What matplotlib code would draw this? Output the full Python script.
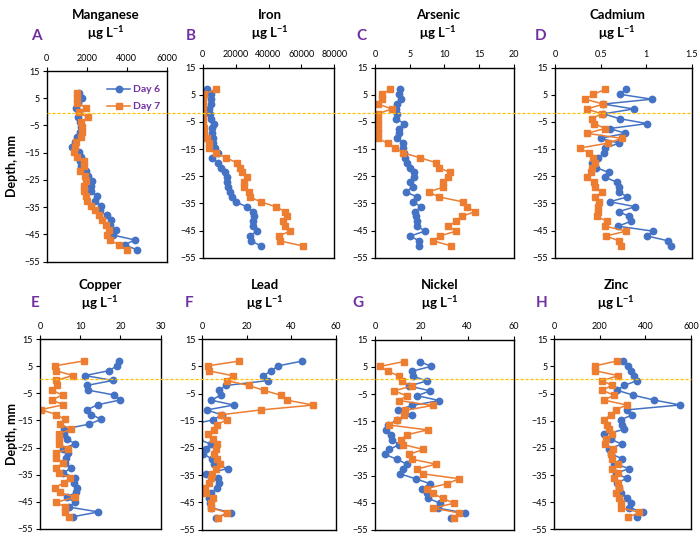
import matplotlib
matplotlib.use("Agg")
import matplotlib.pyplot as plt
from matplotlib.lines import Line2D

plt.rcParams['font.family'] = ['Lato', 'DejaVu Sans']
plt.rcParams['mathtext.fontset'] = 'custom'
plt.rcParams['mathtext.rm'] = 'Lato'
plt.rcParams['mathtext.bf'] = 'Lato:bold'
plt.rcParams['mathtext.it'] = 'Lato:italic'

# depth of each DGT slice, mm
depth = [7, 5.2, 3.4, 1.6, -0.2, -2, -3.8, -5.6, -7.4, -9.2, -11, -12.8, -14.6,
         -16.4, -18.2, -20, -21.8, -23.6, -25.4, -27.2, -29, -30.8, -32.6,
         -34.4, -36.2, -38, -39.8, -41.6, -43.4, -45.2, -47, -48.8, -50.6]

mn_day6 = [1600, 1750, 1550, 1450, 1600, 1550, 1650, 1700, 1650, 1500, 1400, 1250, 1600,
           1700, 1650, 1700, 1950, 2050, 2250, 2200, 2200, 2500, 2400, 2700, 2650,
           3000, 3200, 3150, 3450, 3300, 4400, 3900, 4500]
mn_day7 = [1500, 1500, 1500, 1950, 1600, 2050, 1700, 1750, 1750, 1700, 1450, 1400, 1350,
           1500, 1850, 1850, 1650, 1900, 1950, 1850, 1850, 1950, 2000, 2200, 2400,
           2600, 2750, 2950, 3100, 3000, 3150, 3600, 4000]

fe_day6 = [2400, 4900, 5100, 5100, 4000, 4500, 4900, 7100, 5500, 5500, 6100, 6500, 7500,
           9100, 5500, 9500, 11100, 13600, 14600, 14600, 15200, 16600, 18000, 20000,
           26700, 30800, 31400, 30800, 30400, 32800, 28700, 29400, 35400]
fe_day7 = [8100, 800, 200, 200, 200, 200, 300, 400, 600, 800, 2400, 3800, 3800,
           8100, 14200, 20600, 22700, 24100, 26700, 25100, 25300, 28300, 28700, 35200,
           44500, 50000, 51400, 48600, 50000, 53000, 46400, 47000, 60700]

as_day6 = [3.6, 3.5, 3.7, 3.2, 3.0, 3.1, 3.0, 4.2, 3.4, 3.5, 3.2, 4.1, 4.1, 4.2, 4.3,
           4.6, 5.0, 5.6, 5.6, 5.1, 5.4, 4.4, 6.1, 5.4, 6.6, 5.8, 5.9, 6.0, 6.1, 7.2,
           5.1, 6.3, 6.3]
as_day7 = [2.2, 1.0, 1.0, 0.5, 2.4, 0.4, 0.4, 0.4, 0.4, 0.4, 0.4, 1.8, 2.9, 4.1, 6.5,
           8.8, 9.2, 10.8, 10.5, 9.8, 9.8, 7.7, 9.2, 12.6, 13.2, 14.4, 12.5, 11.7,
           10.5, 11.7, 9.3, 8.4, 10.9]

cd_day6 = [0.78, 0.71, 1.06, 0.53, 0.86, 0.53, 0.71, 1.01, 0.60, 0.77, 0.50, 0.70,
           0.55, 0.54, 0.47, 0.41, 0.45, 0.59, 0.55, 0.68, 0.70, 0.70, 0.79, 0.60,
           0.88, 0.70, 0.81, 0.83, 0.69, 1.07, 1.01, 1.24, 1.27]
cd_day7 = [0.55, 0.42, 0.33, 0.53, 0.35, 0.51, 0.40, 0.43, 0.55, 0.35, 0.73, 0.58,
           0.27, 0.37, 0.42, 0.44, 0.41, 0.39, 0.35, 0.43, 0.44, 0.52, 0.44, 0.48,
           0.47, 0.47, 0.46, 0.57, 0.55, 0.78, 0.56, 0.70, 0.72]

cu_day6 = [19.6, 19.2, 17.1, 11.2, 18.1, 11.8, 12.0, 18.5, 20.0, 14.3, 11.8, 12.8, 15.2,
           12.1, 6.0, 6.0, 6.6, 8.7, 5.8, 6.9, 6.4, 6.3, 7.7, 5.8, 8.7, 8.5, 9.2, 8.9,
           6.6, 8.7, 7.2, 14.5, 8.1]
cu_day7 = [10.9, 3.7, 4.0, 8.1, 4.0, 4.3, 2.9, 5.6, 2.9, 5.8, 0.2, 4.0, 6.2, 5.0, 7.6,
           4.8, 4.8, 4.6, 6.9, 4.0, 4.1, 5.6, 4.0, 4.6, 7.5, 6.0, 3.7, 5.0, 8.7, 4.0,
           6.2, 6.2, 7.2]

pb_day6 = [45, 34, 31, 27.5, 29.5, 10.6, 7.6, 8.2, 3.9, 14.2, 2.0, 8.7, 5.0, -5, -10,
           -6, -1.5, 3.7, 1.6, 0.5, 4.2, 5.4, 11.4, 1.6, 7.2, 7.5, 6.4, 4.0, 3.1, 3.5,
           4.0, 12.9, 6.1]
pb_day7 = [16.6, 2.4, 3.0, 13.6, 11.0, 21.0, 27.7, 35.4, 38.0, 50.0, 26.2, 8.2, 11.0,
           6.7, 5.2, 2.4, 5.0, 6.4, 6.0, 5.4, 6.7, 8.0, 6.1, 4.2, 3.7, 3.0, 1.2, 1.6,
           4.6, 3.7, 3.7, 11.2, 6.9]

ni_day6 = [19.4, 24.2, 15.8, 16.5, 22.3, 14.7, 23.7, 18.3, 27.8, 15.8, 9.8, 15.8, 9.5,
           5.5, 4.7, 6.9, 7.2, 10.4, 6.2, 4.3, 9.4, 13.7, 12.2, 10.8, 17.6, 23.7, 20.4,
           22.6, 23.0, 28.1, 27.0, 38.8, 32.8]
ni_day7 = [12.5, 2.2, 5.5, 10.5, 11.5, 16.1, 8.2, 13.7, 10.4, 24.9, 13.0, 12.5, 9.6,
           6.2, 22.7, 13.7, 11.1, 12.2, 20.9, 14.7, 15.8, 26.3, 18.3, 20.9, 36.3, 31.2,
           22.3, 24.9, 29.2, 34.1, 25.2, 36.3, 34.2]

zn_day6 = [303, 325, 335, 350, 365, 306, 277, 347, 439, 552, 318, 343, 293, 299, 306,
           220, 247, 296, 241, 247, 299, 262, 328, 271, 318, 274, 285, 293, 321, 335,
           330, 391, 363]
zn_day7 = [274, 179, 179, 281, 211, 252, 211, 262, 218, 318, 269, 247, 220, 230, 241,
           252, 225, 222, 256, 247, 252, 281, 252, 281, 263, 281, 284, 271, 284, 293,
           293, 373, 322]

BLUE = '#4472C4'
ORANGE = '#ED7D31'
PURPLE = '#7030A0'
GOLD = '#FFC000'

W, H = 699, 543
fig = plt.figure(figsize=(W / 100, H / 100), dpi=100)


def px_axes(left, right, top, bottom):
    # axes from pixel box (origin top-left)
    return fig.add_axes([left / W, 1 - bottom / H, (right - left) / W, (bottom - top) / H])


def draw_panel(box, day6, day7, xmax, xstep, name, letter, title_x, title_y, letter_xy, ylabel=False):
    ax = px_axes(*box)
    ax.plot(day6, depth, color=BLUE, marker='o', ms=4.6, lw=1.1, label='Day 6')
    ax.plot(day7, depth, color=ORANGE, marker='s', ms=4.8, lw=1.1, label='Day 7')
    ax.set_xlim(0, xmax)
    ax.set_ylim(-55, 15)
    xt = [i * xstep for i in range(int(round(xmax / xstep)) + 1)]
    ax.set_xticks(xt)
    ax.set_xticklabels(['%g' % v for v in xt])
    ax.set_yticks(range(15, -56, -10))
    ax.xaxis.tick_top()
    ax.tick_params(axis='both', direction='out', length=3, width=0.8, labelsize=6.5,
                   pad=2, colors='black')
    ax.tick_params(axis='x', pad=3)
    for s in ax.spines.values():
        s.set_linewidth(1.0)
        s.set_color('black')
    fig.text(title_x / W, 1 - title_y / H, name, ha='center', va='center',
             fontsize=9.5, fontweight='bold')
    fig.text(title_x / W, 1 - (title_y + 18) / H, r'μg L$^{\mathbf{-1}}$', ha='center',
             va='center', fontsize=9.5, fontweight='bold')
    fig.text(letter_xy[0] / W, 1 - letter_xy[1] / H, letter, ha='center', va='center',
             fontsize=11, fontweight='bold', color=PURPLE)
    if ylabel:
        mid = (box[2] + box[3]) / 2
        fig.text(12 / W, 1 - mid / H, 'Depth, mm', rotation=90, ha='center', va='center',
                 fontsize=9, fontweight='bold')
    return ax


ax_mn = draw_panel((46.7, 166.7, 71, 261.7), mn_day6, mn_day7, 6000, 2000,
                   'Manganese', 'A', 106, 15, (36, 36), ylabel=True)
draw_panel((202.7, 334.3, 67.6, 257.8), fe_day6, fe_day7, 80000, 20000,
           'Iron', 'B', 270, 15, (191, 36))
draw_panel((375, 514, 67.7, 257.7), as_day6, as_day7, 20, 5,
           'Arsenic', 'C', 438, 15, (361, 36))
draw_panel((555, 692, 67.7, 257.7), cd_day6, cd_day7, 1.5, 0.5,
           'Cadmium', 'D', 617, 15, (541, 36))
draw_panel((40, 160.7, 339.3, 528.7), cu_day6, cu_day7, 30, 10,
           'Copper', 'E', 100, 285, (35, 303), ylabel=True)
draw_panel((202.3, 335.7, 339.3, 529.5), pb_day6, pb_day7, 60, 20,
           'Lead', 'F', 265, 285, (189, 303))
draw_panel((375, 514, 339.8, 529.8), ni_day6, ni_day7, 60, 20,
           'Nickel', 'G', 440, 285, (358, 303))
draw_panel((554.3, 691, 339.3, 529.3), zn_day6, zn_day7, 600, 200,
           'Zinc', 'H', 616, 285, (542, 303))

leg = ax_mn.legend(loc='upper right', bbox_to_anchor=(1.0, 0.96), frameon=False,
                   fontsize=7.5, handlelength=2.2, handletextpad=0.3, labelspacing=0.75,
                   borderaxespad=0.2)
for t in leg.get_texts():
    t.set_color(PURPLE)
    t.set_fontweight('bold')

# sediment-water interface, drawn across each row of panels
for x0, x1, y in [(46.7, 692, 113.3), (40, 691, 379)]:
    fig.add_artist(Line2D([x0 / W, x1 / W], [1 - y / H, 1 - y / H], transform=fig.transFigure,
                          color=GOLD, lw=0.9, ls=(0, (2.5, 1.5)), zorder=5))

fig.savefig('out.png', dpi=100)
